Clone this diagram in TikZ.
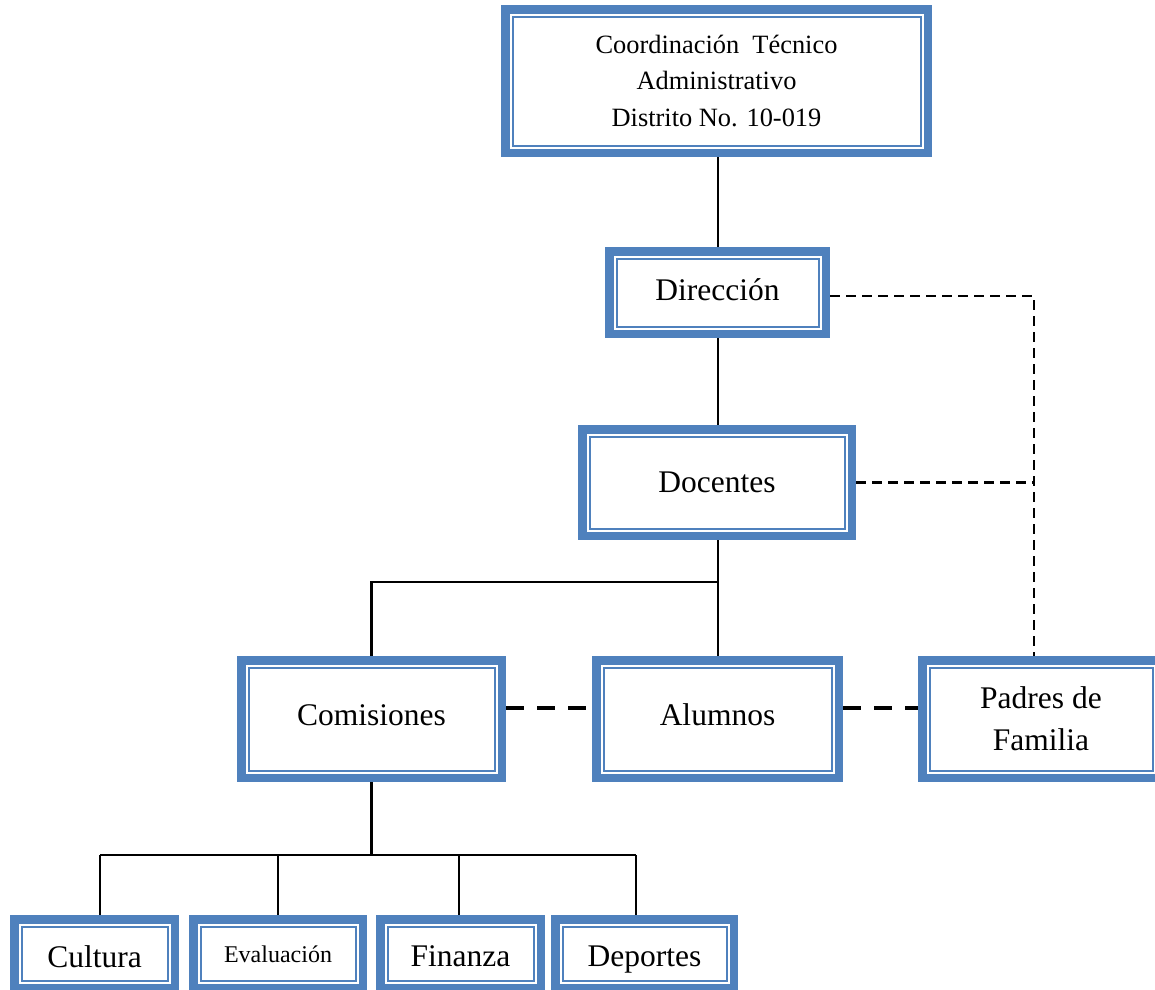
\documentclass[tikz,border=0pt]{standalone}
\usepackage{fontspec}
\setmainfont{Liberation Serif}
\usetikzlibrary{backgrounds}
\definecolor{boxblue}{HTML}{4F81BD}
\tikzset{
 orgbox/.style={draw=boxblue, line width=8.5pt, fill=white, inner sep=0pt, align=center,
   font=\fontsize{31.5}{42}\selectfont,
   path picture={\draw[boxblue, line width=2pt]
     ([shift={(7.25pt,-7.25pt)}]path picture bounding box.north west) rectangle
     ([shift={(-7.25pt,7.25pt)}]path picture bounding box.south east);}},
 conn/.style={line width=2.3pt},
 thindash/.style={line width=2.3pt, dash pattern=on 10pt off 6pt},
 thickdash/.style={line width=4pt, dash pattern=on 18pt off 13pt},
 lowbox/.style={orgbox, minimum height=68.5pt, text depth=0pt, text height=28pt},
}
\begin{document}
\begin{tikzpicture}[x=1pt,y=-1pt]
\useasboundingbox (0,0) rectangle (1155,989);
\node[orgbox, font=\fontsize{26.4}{36.5}\selectfont, minimum width=422.5pt, minimum height=143.5pt] (coord) at (716.5,81) {Coordinación\ \ Técnico\\Administrativo\\Distrito No. 10-019};
\node[orgbox, minimum width=216.5pt, minimum height=82.5pt, text depth=0pt, text height=15pt] (dir) at (717.5,292.5) {Dirección};
\node[orgbox, minimum width=269.5pt, minimum height=106.5pt] (doc) at (717,482.5) {Docentes};
\node[orgbox, minimum width=260.5pt, minimum height=117.5pt, text depth=0pt, text height=13pt] (com) at (371.5,719) {Comisiones};
\node[orgbox, minimum width=242.5pt, minimum height=117.5pt, text depth=0pt, text height=13pt] (alu) at (717.5,719) {Alumnos};
\node[orgbox, minimum width=237.5pt, minimum height=117.5pt] (pad) at (1041,719) {Padres de\\Familia};
\node[lowbox, minimum width=160.5pt] (cul) at (94.5,953.5) {Cultura};
\node[lowbox, font=\fontsize{24}{30}\selectfont, minimum width=169.5pt, text height=17pt] (eva) at (278,953.5) {Evaluación};
\node[lowbox, minimum width=160.5pt, text height=25pt] (fin) at (460.5,953.5) {Finanza};
\node[lowbox, minimum width=178.5pt, text height=25pt] (dep) at (644.5,953.5) {Deportes};
\coordinate (tx) at (718,0);
\coordinate (rv) at (1034,0);
\coordinate (hy1) at (0,582);
\coordinate (c1) at (100,855);
\coordinate (c2) at (278,855);
\coordinate (c3) at (459,855);
\coordinate (c4) at (636,855);
\begin{pgfonlayer}{background}
\draw[conn] (coord.south -| tx) -- (dir.north -| tx);
\draw[conn] (dir.south -| tx) -- (doc.north -| tx);
\draw[conn] (doc.south -| tx) -- (alu.north -| tx);
\draw[conn] (hy1 -| tx) -- (hy1 -| com.north) -- (com.north);
\draw[conn] (com.south) -- (c1 -| com.south);
\draw[conn] (c1) -- (c4);
\draw[conn] (c1) -- (c1 |- cul.north);
\draw[conn] (c2) -- (c2 |- eva.north);
\draw[conn] (c3) -- (c3 |- fin.north);
\draw[conn] (c4) -- (c4 |- dep.north);
\draw[thindash] ([yshift=-3.5pt]dir.east) -- ([yshift=-3.5pt]dir.east -| rv) -- (rv |- pad.north);
\draw[thindash] (doc.east) -- (doc.east -| rv);
\draw[thickdash] ([yshift=11pt]com.east) -- ([yshift=11pt]alu.west);
\draw[thickdash] ([yshift=11pt]alu.east) -- ([yshift=11pt]pad.west);
\end{pgfonlayer}
\end{tikzpicture}
\end{document}
